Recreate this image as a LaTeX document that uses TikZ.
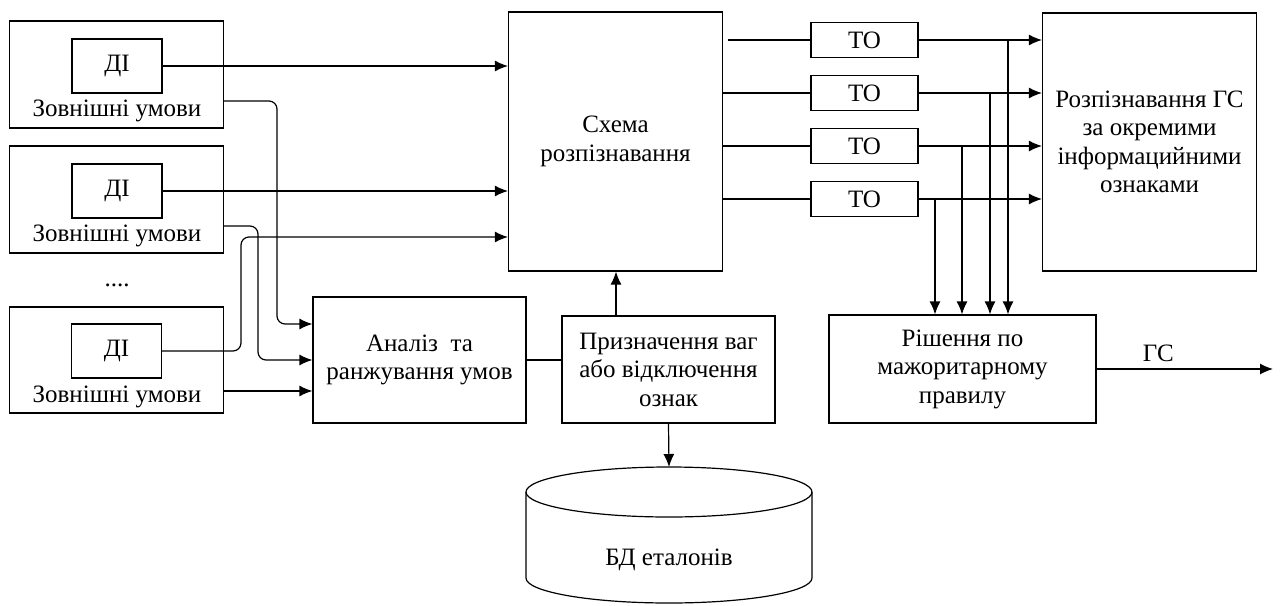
\documentclass[tikz,border=0pt]{standalone}
\usepackage{fontspec}
\setmainfont{Liberation Serif}
\usetikzlibrary{arrows.meta}

\begin{document}
\begin{tikzpicture}[x=1pt,y=-1pt]
	% Styles (MODIFIABLES)
	\tikzstyle{fleche}=[->,>={Latex[length=13pt,width=11pt]},line width=1.2pt]
	\tikzstyle{ligne}=[-,line width=1.2pt]
	\tikzstyle{bloc}=[draw,line width=1.2pt,align=center,inner sep=0pt,font=\fontsize{25}{28.5}\selectfont]
	\tikzstyle{texte}=[inner sep=0pt,align=center,font=\fontsize{25}{28.5}\selectfont]
	% Dimensions (MODIFIABLES)
	\def\LargeurBloc{214}
	\def\LargeurDI{90}
	\def\HauteurDI{54}
	\def\LargeurTO{107}
	\def\HauteurTO{35}
	\def\RayonCoin{8pt}
	% Cadre
	\useasboundingbox (0,0) rectangle (1281,605);
	% Noeuds : conditions externes
	\node[bloc,minimum width=\LargeurBloc,minimum height=107] (zu1) at (116.5,74.5) {};
	\node[bloc,minimum width=\LargeurDI,minimum height=\HauteurDI] (di1) at (117,66) {ДІ};
	\node[texte] (zt1) at (117,111) {Зовнішні умови};
	\node[bloc,minimum width=\LargeurBloc,minimum height=107] (zu2) at (116.5,199.5) {};
	\node[bloc,minimum width=\LargeurDI,minimum height=\HauteurDI] (di2) at (117,191) {ДІ};
	\node[texte] (zt2) at (117,236) {Зовнішні умови};
	\node[texte] (pts) at (117,285) {....};
	\node[bloc,minimum width=\LargeurBloc,minimum height=106] (zu3) at (116.5,360) {};
	\node[bloc,minimum width=\LargeurDI,minimum height=\HauteurDI] (di3) at (116.5,351) {ДІ};
	\node[texte] (zt3) at (117,397) {Зовнішні умови};
	% Noeuds : traitement
	\node[bloc,minimum width=\LargeurBloc,minimum height=259] (schema) at (615.5,141.5) {Схема\\розпізнавання};
	\node[bloc,minimum width=\LargeurTO,minimum height=\HauteurTO] (to1) at (864.5,40) {ТО};
	\node[bloc,minimum width=\LargeurTO,minimum height=\HauteurTO] (to2) at (864.5,93) {ТО};
	\node[bloc,minimum width=\LargeurTO,minimum height=\HauteurTO] (to3) at (864.5,146) {ТО};
	\node[bloc,minimum width=\LargeurTO,minimum height=\HauteurTO] (to4) at (864.5,199) {ТО};
	\node[bloc,minimum width=\LargeurBloc,minimum height=258] (rozp) at (1149.5,142) {Розпізнавання ГС\\за окремими\\інформацийними\\ознаками};
	\node[bloc,minimum width=213,minimum height=126] (an) at (419.5,360) {Аналіз \ та\\ранжування умов};
	\node[bloc,minimum width=213,minimum height=107] (priz) at (668.5,369.5) {Призначення ваг\\або відключення\\ознак};
	\node[bloc,minimum width=267,minimum height=108] (rish) at (962.5,369) {Рішення по\\мажоритарному\\правилу};
	% Base de donnees
	\draw[ligne] (669,492) ellipse [x radius=143,y radius=25];
	\draw[ligne] (526,492) -- (526,578) arc[start angle=180,end angle=0,x radius=143,y radius=25] -- (812,492);
	\node[texte] (bd) at (669,560) {БД еталонів};
	\coordinate (bdhaut) at (669,467);
	\coordinate (sortie) at (1273,369);
	% Arcs (MODIFIABLES : Styles)
	\draw[fleche] (di1.east) -- (di1.east -| schema.west);
	\draw[fleche] (di2.east) -- (di2.east -| schema.west);
	\draw[fleche,rounded corners=\RayonCoin] ([yshift=-26.5pt]zu1.east) -- (277,101) -- (277,324) -- ([yshift=36pt]an.west);
	\draw[fleche,rounded corners=\RayonCoin] ([yshift=-26.5pt]zu2.east) -- (258,226) -- (258,360) -- (an.west);
	\draw[fleche] ([yshift=-31pt]zu3.east) -- ([yshift=-31pt]an.west);
	\draw[fleche,rounded corners=\RayonCoin] (di3.east) -- (241,351) -- (241,237) -- (schema.west |- 241,237);
	%
	\draw[ligne] ([xshift=5pt]schema.east |- to1.west) -- (to1.west);
	\draw[ligne] (schema.east |- to2.west) -- (to2.west);
	\draw[ligne] (schema.east |- to3.west) -- (to3.west);
	\draw[ligne] (schema.east |- to4.west) -- (to4.west);
	\draw[fleche] (to1.east) -- (to1.east -| rozp.west);
	\draw[fleche] (to2.east) -- (to2.east -| rozp.west);
	\draw[fleche] (to3.east) -- (to3.east -| rozp.west);
	\draw[fleche] (to4.east) -- (to4.east -| rozp.west);
	\draw[fleche] (1008,0 |- to1.east) -- (1008,0 |- rish.north);
	\draw[fleche] (990,0 |- to2.east) -- (990,0 |- rish.north);
	\draw[fleche] (962,0 |- to3.east) -- (962,0 |- rish.north);
	\draw[fleche] (935,0 |- to4.east) -- (935,0 |- rish.north);
	\draw[fleche] (rish.east) -- (sortie) node[pos=0.35,above=7pt,texte]{ГС};
	%
	\draw[ligne] (an.east) -- (an.east -| priz.west);
	\draw[fleche] (616,0 |- priz.north) -- (616,0 |- schema.south);
	\draw[fleche] (priz.south) -- (bdhaut);
\end{tikzpicture}
\end{document}
